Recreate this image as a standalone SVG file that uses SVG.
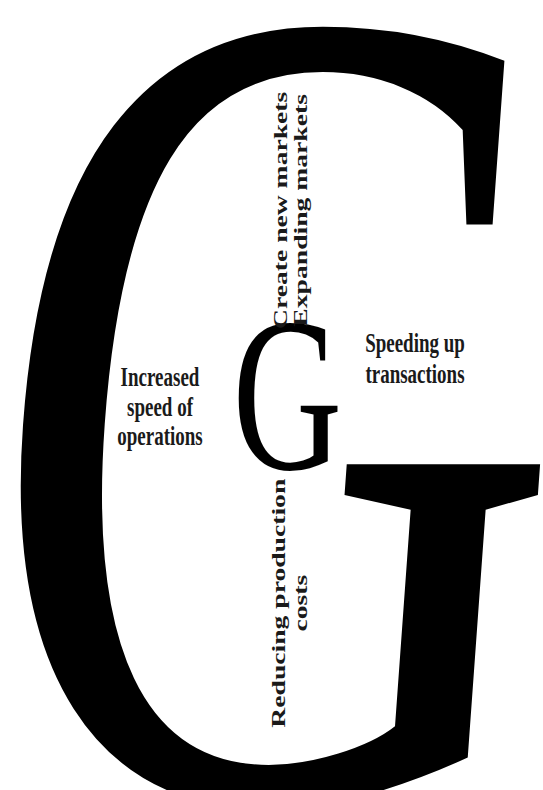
<svg xmlns="http://www.w3.org/2000/svg" width="543" height="790" viewBox="0 0 543 790">
<style>
.lbl{font-family:"Liberation Serif","Times New Roman",serif;font-weight:bold;font-size:19px;fill:#1a1a1a;text-anchor:middle}
.big{font-family:"Liberation Serif","Times New Roman",serif;fill:#000}
</style>
<rect width="543" height="790" fill="#fff"/>
<g transform="scale(1,1.4549)">
<g id="bigG"><text class="big" x="-8" y="548" font-size="800" transform="translate(278,275) skewX(-6) translate(-278,-275)">G</text></g>
<g id="smallG"><text class="big" x="232.6" y="322.3" font-size="152">G</text></g>
<g id="n-markets">
<text class="lbl" font-size="18" transform="translate(287,144.6) rotate(-90)">Create new markets</text>
<text class="lbl" font-size="18" transform="translate(307,144.6) rotate(-90)">Expanding markets</text>
</g>
<g id="n-speed-ops">
<text class="lbl" x="160" y="265">Increased</text>
<text class="lbl" x="160" y="286">speed of</text>
<text class="lbl" x="160" y="306">operations</text>
</g>
<g id="n-transactions">
<text class="lbl" x="415" y="242">Speeding up</text>
<text class="lbl" x="415" y="263">transactions</text>
</g>
<g id="n-costs">
<text class="lbl" font-size="18" transform="translate(284.6,414.6) rotate(-90)">Reducing production</text>
<text class="lbl" font-size="18" transform="translate(307,414.6) rotate(-90)">costs</text>
</g>
</g>
</svg>
